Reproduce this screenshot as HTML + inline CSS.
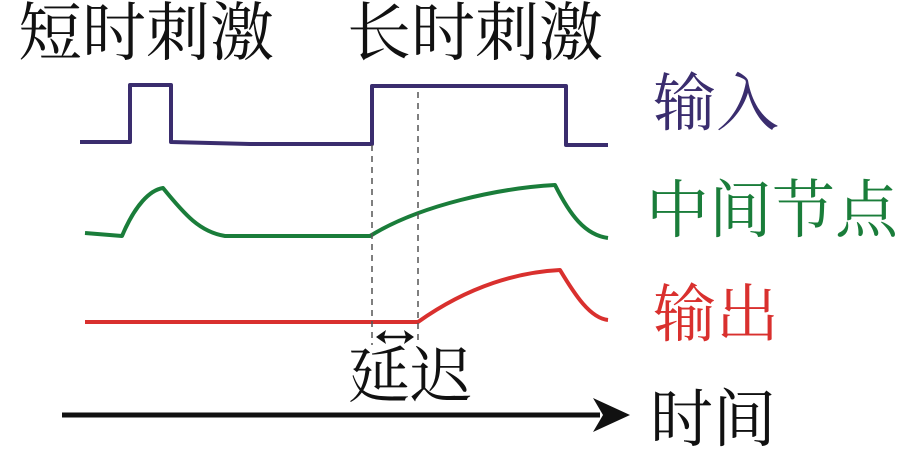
<!DOCTYPE html>
<html><head><meta charset="utf-8"><style>
html,body{margin:0;padding:0;background:#fff;}
.t{position:absolute;font-family:"Liberation Serif","Noto Serif CJK SC",serif;white-space:nowrap;line-height:1;}
</style></head><body>
<div style="position:relative;width:919px;height:456px;overflow:hidden;">
<svg width="919" height="456" style="position:absolute;left:0;top:0">
<g fill="none" stroke-width="4" stroke-linejoin="round">
<path d="M80 142 L130 142 L130 85 L171 85 L171 142 L250 144 L372 144 L372 86 L566 86 L566 145 L608 145" stroke="#3a2d6e"/>
<path d="M85 233 L122 236 C135 205 150 190 163 188 C185 215 200 232 225 236 L370 236 C420 205 500 188 555 185 C570 215 585 235 608 238" stroke="#1a7d3a"/>
<path d="M85 322 L418 322 C470 285 520 272 560 270 C575 295 590 318 608 320" stroke="#d9302e"/>
</g>
<g stroke="#555" stroke-width="1.5" stroke-dasharray="6,5">
<line x1="372" y1="145" x2="372" y2="345"/>
<line x1="418" y1="92" x2="418" y2="345"/>
</g>
<line x1="380" y1="337" x2="410" y2="337" stroke="#111" stroke-width="2.5"/>
<path d="M376 337 L386 330 L384 337 L386 344 Z M414 337 L404 330 L406 337 L404 344 Z" fill="#111"/>
<line x1="62" y1="415" x2="600" y2="415" stroke="#111" stroke-width="5"/>
<path d="M630 415 L593 398 L603 415 L593 432 Z" fill="#111"/>
</svg>
<div class="t" style="left:18px;top:2px;font-size:64px;color:#111;">短时刺激</div>
<div class="t" style="left:347px;top:2px;font-size:64px;color:#111;">长时刺激</div>
<div class="t" style="left:653px;top:73px;font-size:63px;color:#3a2d6e;">输入</div>
<div class="t" style="left:646px;top:180px;font-size:63px;color:#1a7d3a;">中间节点</div>
<div class="t" style="left:653px;top:284px;font-size:63px;color:#d9302e;">输出</div>
<div class="t" style="left:348px;top:346px;font-size:62px;color:#111;">延迟</div>
<div class="t" style="left:650px;top:389px;font-size:63px;color:#111;">时间</div>
</div>
</body></html>
